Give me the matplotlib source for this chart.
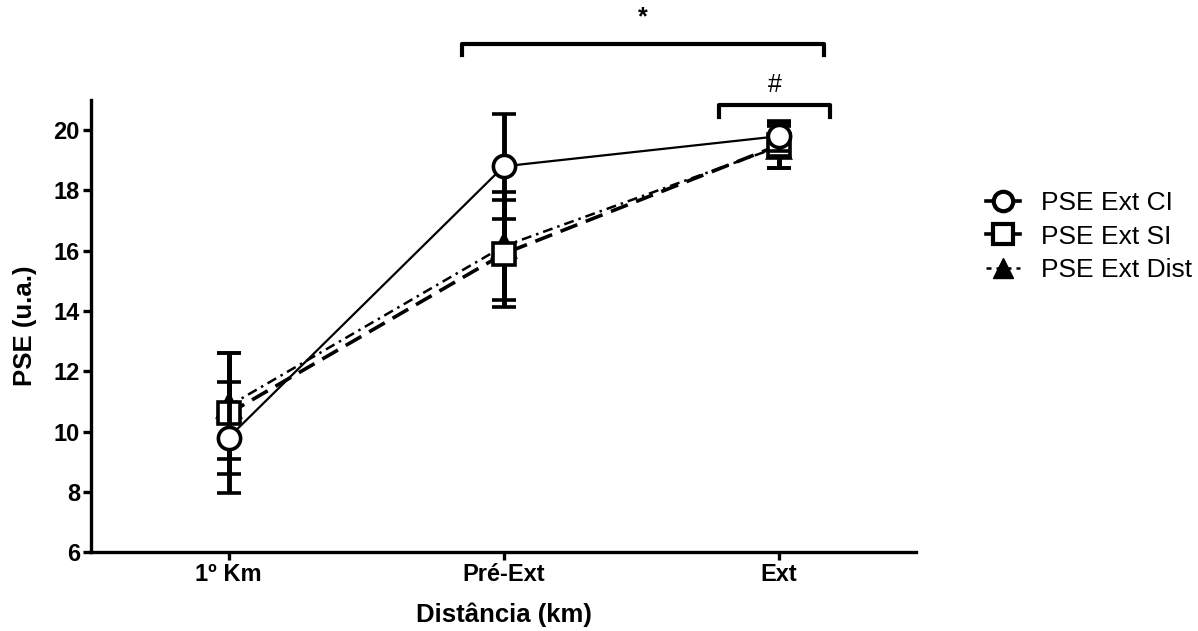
import matplotlib
matplotlib.use("Agg")
import matplotlib.pyplot as plt
from matplotlib.lines import Line2D

plt.rcParams["font.family"] = ["Liberation Sans", "DejaVu Sans"]

# ========= データ =========
categories = ["1º Km", "Pré-Ext", "Ext"]
ci_mean = [9.8, 18.8, 19.8]
ci_sd = [1.85, 1.75, 0.5]
si_mean = [10.6, 15.9, 19.5]
si_sd = [2.0, 1.78, 0.75]
dist_mean = [10.85, 16.15, 19.45]
dist_sd = [1.75, 1.8, 0.7]
yticks = [6, 8, 10, 12, 14, 16, 18, 20]

fig = plt.figure(figsize=(11.98, 6.31), dpi=100)
ax = fig.add_axes([0.076, 0.125, 0.689, 0.7165])
x = list(range(len(categories)))

common = dict(color="black", ecolor="black", elinewidth=3.5, capsize=8.5, capthick=3.5,
              markersize=16, markeredgewidth=2.6, markeredgecolor="black")

ax.errorbar(x, dist_mean, yerr=dist_sd, fmt="^", linestyle=(0, (4, 2, 1, 2)), linewidth=1.8,
            markerfacecolor="black", zorder=3, **common)
ax.errorbar(x, si_mean, yerr=si_sd, fmt="s", linestyle=(0, (5, 2.5)), linewidth=2.6,
            markerfacecolor="white", zorder=4, **common)
ax.errorbar(x, ci_mean, yerr=ci_sd, fmt="o", linestyle="-", linewidth=1.6,
            markerfacecolor="white", zorder=5, **common)

ax.set_xlim(-0.5, 2.5)
ax.set_ylim(6, 21)
ax.set_xticks(x)
ax.set_xticklabels(categories, fontsize=17, fontweight="bold")
ax.set_yticks(yticks)
ax.set_yticklabels([str(t) for t in yticks], fontsize=17, fontweight="bold")
ax.set_xlabel("Distância (km)", fontsize=18.5, fontweight="bold", labelpad=12)
ax.set_ylabel("PSE (u.a.)", fontsize=18.5, fontweight="bold", labelpad=12)

for side in ["top", "right"]:
    ax.spines[side].set_visible(False)
for side in ["left", "bottom"]:
    ax.spines[side].set_linewidth(2.4)
ax.tick_params(axis="both", direction="out", length=6, width=2.4, pad=2)

# 有意差の括弧
ax.plot([0.848, 0.848, 2.165, 2.165], [22.5, 22.86, 22.86, 22.5],
        color="black", linewidth=3, clip_on=False)
ax.text(1.506, 23.35, "*", ha="center", va="bottom", fontsize=18, fontweight="bold")
ax.plot([1.784, 1.784, 2.186, 2.186], [20.45, 20.85, 20.85, 20.45],
        color="black", linewidth=3, clip_on=False)
ax.text(1.985, 21.1, "#", ha="center", va="bottom", fontsize=18)

# 凡例
handles = [
    Line2D([], [], color="black", linestyle="-", linewidth=2.6, marker="o", markersize=14,
           markeredgewidth=3, markerfacecolor="white", label="PSE Ext CI"),
    Line2D([], [], color="black", linestyle="-", linewidth=2.6, marker="s", markersize=14,
           markeredgewidth=3, markerfacecolor="white", label="PSE Ext SI"),
    Line2D([], [], color="black", linestyle=(0, (2, 2)), linewidth=1.8, marker="^", markersize=14,
           markerfacecolor="black", label="PSE Ext Dist"),
]
ax.legend(handles=handles, loc="center left", bbox_to_anchor=(0.803, 0.625),
          bbox_transform=fig.transFigure, frameon=False, fontsize=19,
          handlelength=1.3, handletextpad=0.8, labelspacing=0.35)

plt.savefig("out.png", dpi=100)
plt.close()
